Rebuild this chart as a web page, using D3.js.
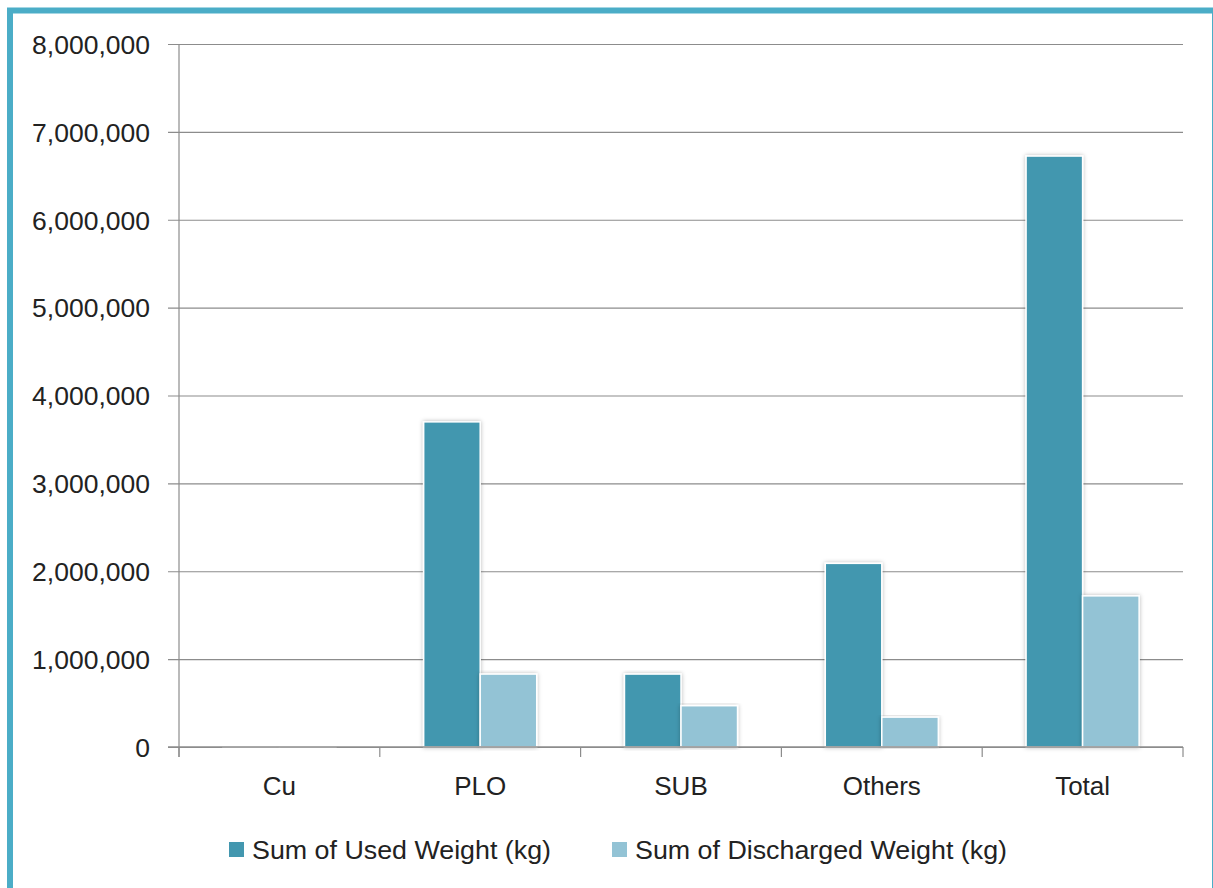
<!DOCTYPE html>
<html>
<head>
<meta charset="utf-8">
<script src="https://cdn.jsdelivr.net/npm/d3@7"></script>
<style>
  html, body { margin: 0; padding: 0; background: #fff; }
  svg { display: block; }
  text { font-family: "Liberation Sans", Arial, sans-serif; fill: #222; }
</style>
</head>
<body>
<svg id="chart" width="1213" height="888"></svg>
<script>
// Weights per process group, in kilograms
const categories = ["Cu", "PLO", "SUB", "Others", "Total"];
const seriesNames = ["Sum of Used Weight (kg)", "Sum of Discharged Weight (kg)"];
const usedWeight = [6000, 3700000, 830000, 2090000, 6725000];
const dischargedWeight = [3000, 830000, 470000, 340000, 1720000];
const yTicks = [0, 1000000, 2000000, 3000000, 4000000, 5000000, 6000000, 7000000, 8000000];
const seriesColors = ["#4397AF", "#93C3D5"];

const svg = d3.select("#chart");
const W = 1213, H = 888;
const margin = { left: 179, right: 30, top: 44, bottom: 141 };
const plotW = W - margin.left - margin.right;
const plotH = H - margin.top - margin.bottom;

// Frame
svg.append("rect")
  .attr("x", 10).attr("y", 10.5)
  .attr("width", 1205).attr("height", 900)
  .attr("fill", "none")
  .attr("stroke", "#4BADC7")
  .attr("stroke-width", 6);

const defs = svg.append("defs");
const f = defs.append("filter").attr("id", "barShadow")
  .attr("x", "-20%").attr("y", "-5%").attr("width", "140%").attr("height", "110%");
f.append("feDropShadow")
  .attr("dx", 0).attr("dy", 0).attr("stdDeviation", 2.2)
  .attr("flood-color", "#000").attr("flood-opacity", 0.28);

const g = svg.append("g").attr("transform", `translate(${margin.left},${margin.top})`);

const y = d3.scaleLinear().domain([0, 8000000]).range([plotH, 0]);
const x0 = d3.scaleBand().domain(categories).range([0, plotW])
  .paddingInner(0.437).paddingOuter(0.2185);
const x1 = d3.scaleBand().domain(seriesNames).range([0, x0.bandwidth()]);

// Horizontal gridlines with left ticks
const yAxis = d3.axisLeft(y)
  .tickValues(yTicks)
  .tickSize(-plotW)
  .tickFormat(d3.format(","));
const yg = g.append("g").call(yAxis);
yg.select(".domain").remove();
yg.selectAll(".tick line")
  .attr("x1", -11)
  .attr("stroke", "#8c8c8c")
  .attr("stroke-width", 1.2);
yg.selectAll(".tick text")
  .attr("x", -29)
  .attr("dy", "0.35em")
  .style("font-size", "26.5px")
  .style("font-family", "'Liberation Sans', Arial, sans-serif")
  .attr("fill", "#222");

// Vertical axis line
g.append("line")
  .attr("x1", 0).attr("x2", 0)
  .attr("y1", 0).attr("y2", plotH + 10)
  .attr("stroke", "#8c8c8c").attr("stroke-width", 1.2);

// Bars
const rows = categories.map((c, i) => ({ cat: c, vals: [usedWeight[i], dischargedWeight[i]] }));
const groups = g.selectAll("g.cat").data(rows).join("g")
  .attr("class", "cat")
  .attr("transform", d => `translate(${x0(d.cat)},0)`);
groups.selectAll("rect")
  .data(d => d.vals.map((v, k) => ({ name: seriesNames[k], v, k })))
  .join("rect")
  .attr("x", d => x1(d.name))
  .attr("y", d => y(d.v))
  .attr("width", x1.bandwidth())
  .attr("height", d => plotH - y(d.v))
  .attr("fill", d => seriesColors[d.k])
  .attr("stroke", "#fff")
  .attr("stroke-width", 1.5)
  .attr("filter", "url(#barShadow)");

// Category axis
const xAxisG = g.append("g").attr("transform", `translate(0,${plotH})`);
xAxisG.append("line")
  .attr("x1", -11).attr("x2", plotW)
  .attr("stroke", "#8c8c8c").attr("stroke-width", 1.5);
const boundaries = d3.range(categories.length + 1).map(i => i * x0.step());
xAxisG.selectAll("line.tk").data(boundaries).join("line")
  .attr("class", "tk")
  .attr("x1", d => d).attr("x2", d => d)
  .attr("y1", 0).attr("y2", 10)
  .attr("stroke", "#8c8c8c").attr("stroke-width", 1.2);
xAxisG.selectAll("text").data(categories).join("text")
  .attr("x", d => x0(d) + x0.bandwidth() / 2)
  .attr("y", 48)
  .attr("text-anchor", "middle")
  .style("font-size", "26px")
  .text(d => d);

// Legend
const legend = svg.append("g");
const legendX = [229, 612];
const legendTextWidth = [299, 372];
seriesNames.forEach((name, i) => {
  legend.append("rect")
    .attr("x", legendX[i]).attr("y", 842)
    .attr("width", 15).attr("height", 15)
    .attr("fill", seriesColors[i]);
  legend.append("text")
    .attr("x", legendX[i] + 23).attr("y", 859)
    .attr("textLength", legendTextWidth[i])
    .attr("lengthAdjust", "spacingAndGlyphs")
    .style("font-size", "25px")
    .text(name);
});
</script>
</body>
</html>
